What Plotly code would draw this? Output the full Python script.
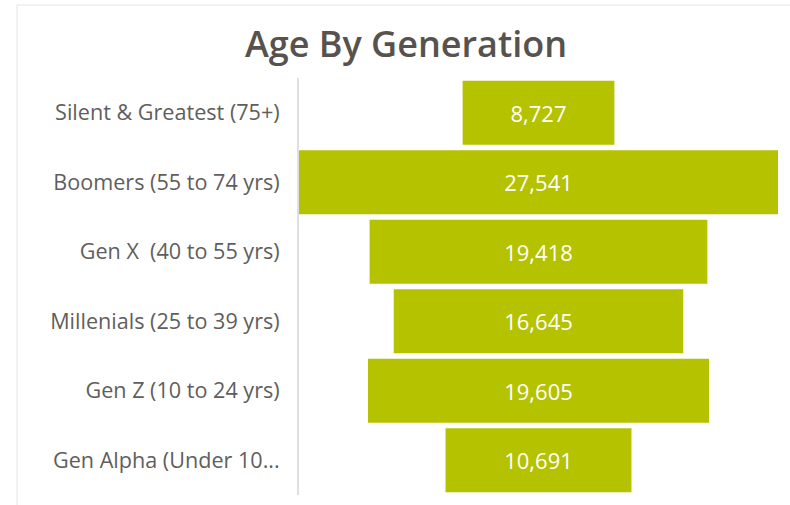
import plotly.graph_objects as go

categories = [
    "Silent & Greatest (75+)",
    "Boomers (55 to 74 yrs)",
    "Gen X  (40 to 55 yrs)",
    "Millenials (25 to 39 yrs)",
    "Gen Z (10 to 24 yrs)",
    "Gen Alpha (Under 10...",
]
population = [8727, 27541, 19418, 16645, 19605, 10691]

BAR_COLOR = "#b5c200"
LABEL_COLOR = "#605e5c"
TITLE_COLOR = "#57524e"

W, H = 790, 505
L, R, T, B = 299, 12, 78, 10
PW, PH = W - L - R, H - T - B

fig = go.Figure(
    go.Funnel(
        y=categories,
        x=population,
        marker=dict(color=BAR_COLOR, line=dict(width=0)),
        connector=dict(visible=False),
        textinfo="value",
        texttemplate="%{x:,}",
        textposition="inside",
        insidetextanchor="middle",
        textfont=dict(color="white", size=22, family="Open Sans"),
        hoverinfo="y+x",
    )
)

mx = max(population)
fig.update_layout(
    width=W,
    height=H,
    paper_bgcolor="white",
    plot_bgcolor="white",
    margin=dict(l=L, r=R, t=T, b=B),
    funnelgap=0.08,
    showlegend=False,
    title=dict(
        text="Age By Generation",
        x=406 / W,
        xanchor="center",
        y=1 - 44 / H,
        yanchor="middle",
        font=dict(family="Open Sans", size=36, color=TITLE_COLOR, weight=600),
    ),
    xaxis=dict(
        range=[-mx / 2, mx / 2],
        visible=False,
        showgrid=False,
        zeroline=False,
    ),
    yaxis=dict(
        showline=True,
        linecolor="#e1dede",
        linewidth=2,
        showgrid=False,
        zeroline=False,
        ticks="",
        ticklabelstandoff=13,
        tickfont=dict(family="Open Sans", size=21.6, color=LABEL_COLOR),
    ),
    shapes=[
        dict(
            type="rect",
            xref="paper",
            yref="paper",
            x0=(17 - L) / PW,
            x1=1.2,
            y0=-0.2,
            y1=1 + (T - 5) / PH,
            line=dict(color="#e6e2e2", width=1),
            fillcolor="rgba(0,0,0,0)",
            layer="below",
        )
    ],
)

fig.write_html(
    "out.html",
    config={"displayModeBar": False},
    post_script="document.body.style.margin='0';",
)
